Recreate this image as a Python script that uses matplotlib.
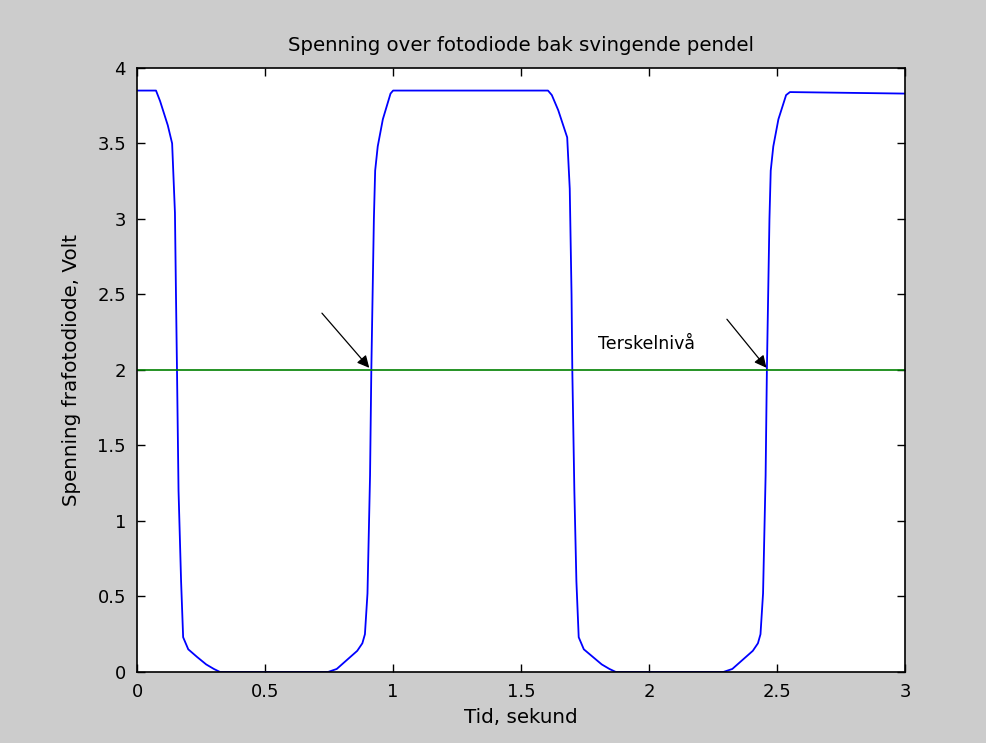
import numpy as np
import matplotlib.pyplot as plt

plt.rcParams['font.family'] = ['DejaVu Sans']

# waveform (time in s, voltage in V)
t = [0.0, 0.074, 0.09, 0.105, 0.12, 0.137, 0.148, 0.152, 0.156, 0.162, 0.172, 0.18,
     0.2, 0.234, 0.27, 0.3, 0.324, 0.746, 0.78, 0.82, 0.86, 0.88, 0.89, 0.9, 0.91,
     0.915, 0.925, 0.93, 0.94, 0.96, 0.99, 1.0, 1.605, 1.62, 1.645, 1.68, 1.69, 1.697,
     1.70, 1.708, 1.716, 1.725, 1.745, 1.78, 1.815, 1.845, 1.87, 2.29, 2.325, 2.365,
     2.405, 2.425, 2.435, 2.445, 2.455, 2.46, 2.47, 2.475, 2.485, 2.505, 2.535, 2.55, 3.0]
v = [3.85, 3.85, 3.78, 3.7, 3.62, 3.5, 3.04, 2.5, 2.0, 1.2, 0.6, 0.23,
     0.15, 0.1, 0.05, 0.02, 0.0, 0.0, 0.02, 0.08, 0.14, 0.19, 0.25, 0.52, 1.3,
     2.0, 3.0, 3.32, 3.48, 3.66, 3.83, 3.85, 3.85, 3.82, 3.72, 3.54, 3.2, 2.5,
     2.0, 1.2, 0.6, 0.23, 0.15, 0.1, 0.05, 0.02, 0.0, 0.0, 0.02, 0.08,
     0.14, 0.19, 0.25, 0.52, 1.3, 2.0, 3.0, 3.32, 3.48, 3.66, 3.82, 3.84, 3.83]

threshold = 2.0
arrow_tails = [(0.715, 2.39), (2.297, 2.35)]
arrow_heads = [(0.914, 2.0), (2.465, 2.0)]

fig = plt.figure(figsize=(9.86, 7.43), dpi=100, facecolor='#cccccc')
ax = fig.add_axes([0.139, 0.0956, 0.779, 0.813])
ax.set_facecolor('white')

ax.plot(t, v, color='#0000ff', lw=1.3)
ax.plot([0, 3], [threshold, threshold], color='#008000', lw=1.2)

for (xt, yt), (xh, yh) in zip(arrow_tails, arrow_heads):
    ax.annotate('', xy=(xh, yh), xytext=(xt, yt),
                arrowprops=dict(arrowstyle='-|>', color='k', lw=0.9, mutation_scale=18))
ax.text(1.80, 2.17, 'Terskelnivå', fontsize=12.5, va='center', ha='left')

ax.set_xlim(0, 3)
ax.set_ylim(0, 4)
ax.set_xticks([0, 0.5, 1, 1.5, 2, 2.5, 3])
ax.set_xticklabels(['0', '0.5', '1', '1.5', '2', '2.5', '3'])
ax.set_yticks([0, 0.5, 1, 1.5, 2, 2.5, 3, 3.5, 4])
ax.set_yticklabels(['0', '0.5', '1', '1.5', '2', '2.5', '3', '3.5', '4'])
ax.tick_params(direction='in', top=True, right=True, labelsize=13, length=6, width=1, pad=8)
for s in ax.spines.values():
    s.set_linewidth(1.2)

ax.set_title('Spenning over fotodiode bak svingende pendel', fontsize=14.2, pad=12)
ax.set_xlabel('Tid, sekund', fontsize=14.3, labelpad=5)
ax.set_ylabel('Spenning frafotodiode, Volt', fontsize=14.3, labelpad=12)

fig.savefig('out.png', dpi=100, facecolor=fig.get_facecolor())
